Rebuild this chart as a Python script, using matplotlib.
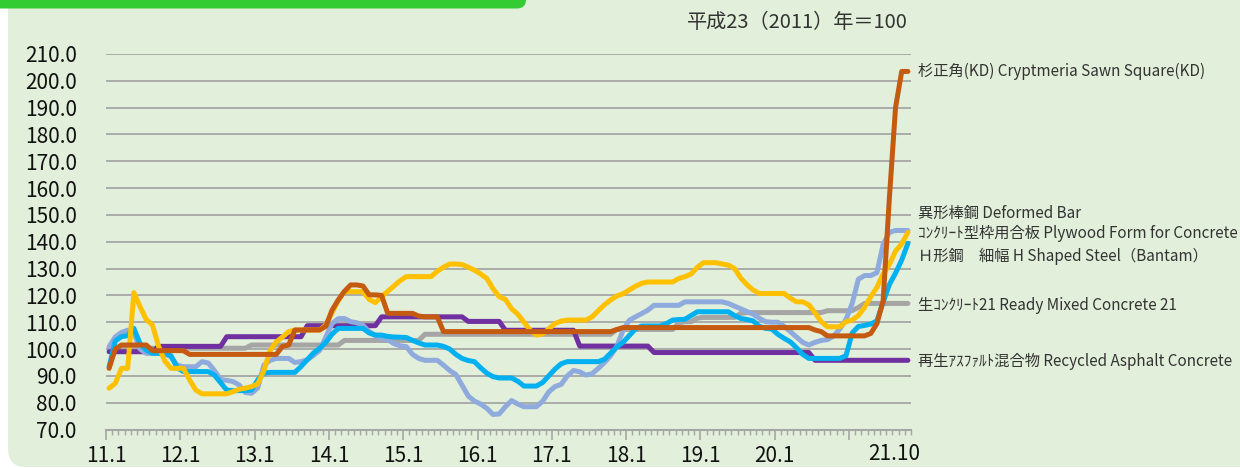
import numpy as np
import matplotlib
matplotlib.use('Agg')
import matplotlib.pyplot as plt
from matplotlib.patches import FancyBboxPatch
from matplotlib.transforms import IdentityTransform, blended_transform_factory

plt.rcParams['font.family'] = ['Noto Sans CJK JP', 'DejaVu Sans']

# ---------- data: monthly index, 2011.1 - 2021.10 (H23=100) ----------
cedar = [  # 杉正角(KD)
    92.8, 100.0, 101.5, 101.5, 101.5, 101.5, 101.5, 99.4, 99.4, 99.4, 99.4, 99.4,
    99.4, 98.0, 98.0, 98.0, 98.0, 98.0, 98.0, 98.0, 98.0, 98.0, 98.0, 98.0,
    98.0, 98.0, 98.0, 98.0, 101.0, 101.5, 107.1, 107.1, 107.1, 107.1, 107.1, 108.5,
    114.5, 118.3, 121.5, 123.9, 123.9, 123.5, 120.2, 120.2, 120.0, 113.3, 113.3, 113.3,
    113.3, 113.3, 112.3, 112.0, 112.0, 112.0, 106.5, 106.5, 106.5, 106.5, 106.5, 106.5,
    106.5, 106.5, 106.5, 106.5, 106.5, 106.5, 106.5, 106.5, 106.5, 106.5, 106.5, 106.5,
    106.5, 106.5, 106.5, 106.5, 106.5, 106.5, 106.5, 106.5, 106.5, 106.5, 107.3, 108.0,
    108.0, 108.0, 108.0, 108.0, 108.0, 108.0, 108.0, 108.0, 108.0, 108.0, 108.0, 108.0,
    108.0, 108.0, 108.0, 108.0, 108.0, 108.0, 108.0, 108.0, 108.0, 108.0, 108.0, 108.0,
    108.0, 108.0, 108.0, 108.0, 108.0, 108.0, 107.1, 106.5, 104.9, 104.9, 104.9, 104.9,
    104.9, 104.9, 104.9, 105.8, 109.5, 118.0, 156.0, 190.0, 203.5, 203.5,
]
deformed_bar = [  # 異形棒鋼
    100.9, 104.5, 106.2, 107.0, 106.0, 100.0, 98.4, 98.4, 98.4, 98.4, 97.0, 94.0,
    93.4, 93.4, 93.4, 95.3, 94.8, 92.0, 88.7, 88.3, 87.9, 86.6, 83.8, 83.5,
    85.5, 94.0, 95.8, 96.5, 96.5, 96.5, 95.0, 95.3, 96.0, 97.6, 99.5, 104.5,
    109.5, 111.3, 111.4, 110.2, 109.8, 108.8, 106.5, 105.0, 104.0, 103.5, 102.0, 101.2,
    100.9, 98.0, 96.5, 95.8, 95.8, 95.8, 94.0, 92.0, 90.5, 86.5, 82.5, 80.6,
    79.5, 77.9, 75.6, 75.8, 78.5, 80.8, 79.5, 78.5, 78.5, 78.5, 80.5, 84.0,
    86.0, 86.8, 90.0, 92.0, 91.5, 90.3, 90.8, 92.8, 95.0, 97.5, 101.0, 107.0,
    110.7, 112.0, 113.2, 114.5, 116.3, 116.3, 116.3, 116.3, 116.3, 117.6, 117.6, 117.6,
    117.6, 117.6, 117.6, 117.6, 117.0, 116.0, 115.0, 114.0, 113.0, 111.5, 110.2, 110.0,
    110.0, 108.5, 106.5, 104.5, 102.5, 101.5, 102.5, 103.2, 103.5, 104.8, 107.5, 111.0,
    117.0, 126.0, 127.4, 127.4, 128.5, 139.0, 143.5, 144.2, 144.2, 144.2,
]
plywood = [  # コンクリート型枠用合板
    85.4, 87.2, 92.8, 92.8, 121.0, 115.8, 111.0, 109.0, 101.0, 95.5, 92.8, 92.8,
    92.8, 88.5, 84.7, 83.3, 83.3, 83.3, 83.3, 83.3, 84.1, 85.0, 85.4, 86.0,
    87.0, 92.0, 99.5, 102.7, 104.5, 106.5, 107.1, 107.1, 107.1, 107.1, 107.1, 109.0,
    113.5, 118.0, 121.4, 121.4, 121.4, 121.4, 118.5, 117.3, 119.5, 121.5, 123.5, 125.5,
    127.0, 127.0, 127.0, 127.0, 127.0, 129.0, 130.5, 131.7, 131.7, 131.5, 130.5, 129.4,
    128.0, 126.3, 122.5, 119.5, 118.5, 115.0, 113.0, 110.0, 107.0, 105.2, 105.6, 107.5,
    109.5, 110.4, 110.8, 110.8, 110.8, 110.8, 112.0, 114.3, 116.5, 118.3, 119.8, 120.6,
    122.0, 123.4, 124.5, 125.0, 125.0, 125.0, 125.0, 125.0, 126.3, 127.0, 128.0, 130.5,
    132.2, 132.2, 132.2, 131.7, 131.3, 130.0, 126.5, 124.0, 122.0, 120.7, 120.7, 120.7,
    120.7, 120.7, 119.0, 117.6, 117.6, 116.5, 113.5, 110.2, 108.3, 108.3, 108.3, 110.2,
    110.8, 112.5, 115.5, 119.5, 123.0, 128.0, 131.5, 136.5, 139.2, 143.5,
]
h_steel = [  # H形鋼 細幅
    93.4, 103.0, 104.6, 105.0, 107.7, 102.0, 99.6, 98.4, 98.4, 98.4, 97.5, 93.0,
    91.6, 91.6, 91.6, 91.6, 91.6, 90.3, 87.5, 84.7, 84.5, 84.5, 84.5, 84.7,
    88.5, 91.0, 91.3, 91.3, 91.3, 91.3, 91.3, 93.5, 96.0, 98.5, 100.3, 102.5,
    105.5, 107.7, 107.7, 107.7, 107.7, 107.7, 106.0, 105.2, 105.2, 104.7, 104.5, 104.4,
    104.3, 103.2, 102.3, 101.5, 101.5, 101.5, 101.0, 100.0, 98.0, 96.5, 95.7, 95.3,
    93.0, 91.0, 89.7, 89.2, 89.2, 89.2, 88.0, 86.2, 86.2, 86.2, 87.5, 90.0,
    92.5, 94.5, 95.3, 95.3, 95.3, 95.3, 95.3, 95.3, 96.2, 98.5, 100.8, 102.5,
    105.0, 107.5, 108.6, 108.6, 108.6, 108.6, 109.5, 110.8, 111.0, 111.1, 112.5, 113.9,
    113.9, 113.9, 113.9, 113.9, 113.9, 112.5, 111.4, 111.0, 110.5, 108.5, 107.7, 107.5,
    105.5, 104.0, 102.7, 100.5, 98.0, 96.5, 96.5, 96.5, 96.5, 96.5, 96.5, 97.5,
    106.0, 108.4, 108.8, 109.3, 110.5, 117.5, 124.0, 128.3, 133.2, 139.4,
]
ready_mixed = [  # 生コンクリート21
    100.3, 100.3, 100.3, 100.3, 100.3, 100.3, 100.3, 100.3, 100.3, 100.3, 100.3, 100.3,
    100.3, 100.3, 100.3, 100.3, 100.3, 100.3, 100.3, 100.3, 100.3, 100.3, 100.3, 101.5,
    101.5, 101.5, 101.5, 101.5, 101.5, 101.5, 101.5, 101.5, 101.5, 101.5, 101.5, 101.5,
    101.5, 101.5, 103.2, 103.2, 103.2, 103.2, 103.2, 103.2, 103.2, 103.2, 103.2, 103.2,
    103.2, 103.2, 103.2, 105.5, 105.5, 105.5, 105.5, 105.5, 105.5, 105.5, 105.5, 105.5,
    105.5, 105.5, 105.5, 105.5, 105.5, 105.5, 105.5, 105.5, 105.5, 105.5, 105.5, 105.5,
    105.5, 105.5, 105.5, 105.5, 105.5, 105.5, 105.5, 105.5, 105.5, 105.5, 107.3, 107.3,
    107.3, 107.3, 107.3, 107.3, 107.3, 107.3, 107.3, 107.3, 109.7, 110.2, 110.2, 111.5,
    111.8, 111.8, 111.8, 111.8, 111.8, 111.8, 113.3, 113.6, 113.6, 113.6, 113.6, 113.6,
    113.6, 113.6, 113.6, 113.6, 113.6, 113.6, 113.6, 113.6, 114.3, 114.3, 114.3, 114.3,
    114.3, 115.5, 117.0, 117.0, 117.0, 117.0, 117.0, 117.0, 117.0, 117.0,
]
asphalt = [  # 再生アスファルト混合物
    99.0, 99.0, 99.0, 99.0, 99.0, 99.0, 99.0, 99.0, 101.0, 101.0, 101.0, 101.0,
    101.0, 101.0, 101.0, 101.0, 101.0, 101.0, 101.0, 104.6, 104.6, 104.6, 104.6, 104.6,
    104.6, 104.6, 104.6, 104.6, 104.6, 104.6, 104.6, 104.6, 108.7, 108.7, 108.7, 108.7,
    108.7, 108.7, 108.7, 108.7, 108.7, 108.7, 108.7, 108.7, 112.0, 112.0, 112.0, 112.0,
    112.0, 112.0, 112.0, 112.0, 112.0, 112.0, 112.0, 112.0, 112.0, 112.0, 110.3, 110.3,
    110.3, 110.3, 110.3, 110.3, 107.0, 107.0, 107.0, 107.0, 107.0, 107.0, 107.0, 107.0,
    107.0, 107.0, 107.0, 107.0, 101.1, 101.1, 101.1, 101.1, 101.1, 101.1, 101.1, 101.1,
    101.1, 101.1, 101.1, 101.1, 98.7, 98.7, 98.7, 98.7, 98.7, 98.7, 98.7, 98.7,
    98.7, 98.7, 98.7, 98.7, 98.7, 98.7, 98.7, 98.7, 98.7, 98.7, 98.7, 98.7,
    98.7, 98.7, 98.7, 98.7, 98.7, 98.7, 95.8, 95.8, 95.8, 95.8, 95.8, 95.8,
    95.8, 95.8, 95.8, 95.8, 95.8, 95.8, 95.8, 95.8, 95.8, 95.8,
]

year_labels = ['11.1', '12.1', '13.1', '14.1', '15.1', '16.1', '17.1', '18.1', '19.1', '20.1', '']
last_label = '21.10'
yticks = [70, 80, 90, 100, 110, 120, 130, 140, 150, 160, 170, 180, 190, 200, 210]

series = [  # (values, colour, right-side label, label y)
    (ready_mixed, '#a5a5a5', '生ｺﾝｸﾘｰﾄ21 Ready Mixed Concrete 21', 116.4),
    (asphalt, '#7030a0', '再生ｱｽﾌｧﾙﾄ混合物 Recycled Asphalt Concrete', 95.3),
    (deformed_bar, '#8faadc', '異形棒鋼 Deformed Bar', 150.6),
    (h_steel, '#00b0f0', 'Ｈ形鋼　細幅 H Shaped Steel（Bantam）', 134.4),
    (plywood, '#ffc000', 'ｺﾝｸﾘｰﾄ型枠用合板 Plywood Form for Concrete', 143.1),
    (cedar, '#c55a11', '杉正角(KD) Cryptmeria Sawn Square(KD)', 203.4),
]

BG = '#e2efda'
GRID = '#a6a6a6'
TXT = '#111111'

fig = plt.figure(figsize=(12.4, 4.68), dpi=100)
fig.patch.set_facecolor('white')

# light green panel with rounded lower-left corner, green tab at top-left
fig.add_artist(FancyBboxPatch((8, 1), 1400, 600, boxstyle='round,pad=0,rounding_size=18',
                              transform=IdentityTransform(), facecolor=BG, edgecolor='none', zorder=0))
fig.add_artist(FancyBboxPatch((-40, 459.5), 566, 60, boxstyle='round,pad=0,rounding_size=9',
                              transform=IdentityTransform(), facecolor='#33cc33', edgecolor='none', zorder=1))

ax = fig.add_axes([106 / 1240, 38.5 / 468, 805 / 1240, 375.5 / 468])
ax.patch.set_alpha(0)

x = np.arange(len(cedar))
for vals, col, lab, ly in series:
    ax.plot(x, vals, color=col, lw=3.6, solid_joinstyle='round', solid_capstyle='round', zorder=3)

ax.set_xlim(-0.5, len(cedar) - 0.5)
ax.set_ylim(70, 210)
ax.set_yticks(yticks)
ax.set_yticklabels([f'{v:.1f}' for v in yticks])
for v in yticks[1:]:
    ax.axhline(v, color=GRID, lw=1.3, zorder=1)

ax.set_xticks(np.arange(-0.5, len(cedar), 12))
ax.set_xticklabels(year_labels)
ax.set_xticks(np.arange(-0.5, len(cedar), 1), minor=True)

for s in ['top', 'right', 'left']:
    ax.spines[s].set_visible(False)
ax.spines['bottom'].set_color(GRID)
ax.spines['bottom'].set_linewidth(1.5)

ax.tick_params(axis='y', length=0, pad=21, labelsize=15, labelcolor=TXT)
ax.tick_params(axis='x', which='major', direction='out', length=7, width=1.2, color=GRID,
               pad=4, labelsize=15, labelcolor=TXT)
ax.tick_params(axis='x', which='minor', direction='out', length=3.5, width=1.0, color=GRID)

# last month label (the 21.1 label is hidden under it in the original)
ax.text(126.8, -0.035, last_label, transform=blended_transform_factory(ax.transData, ax.transAxes),
        ha='center', va='top', fontsize=15, color=TXT)

trans = blended_transform_factory(ax.transAxes, ax.transData)
for vals, col, lab, ly in series:
    ax.text(1.0087, ly, lab, transform=trans, ha='left', va='center', fontsize=11,
            color='#333333', clip_on=False)

fig.text(908 / 1240, 1 - 23 / 468, '平成23（2011）年＝100', ha='right', va='center',
         fontsize=14.5, color='#333333')

fig.savefig('out.png', dpi=100)
